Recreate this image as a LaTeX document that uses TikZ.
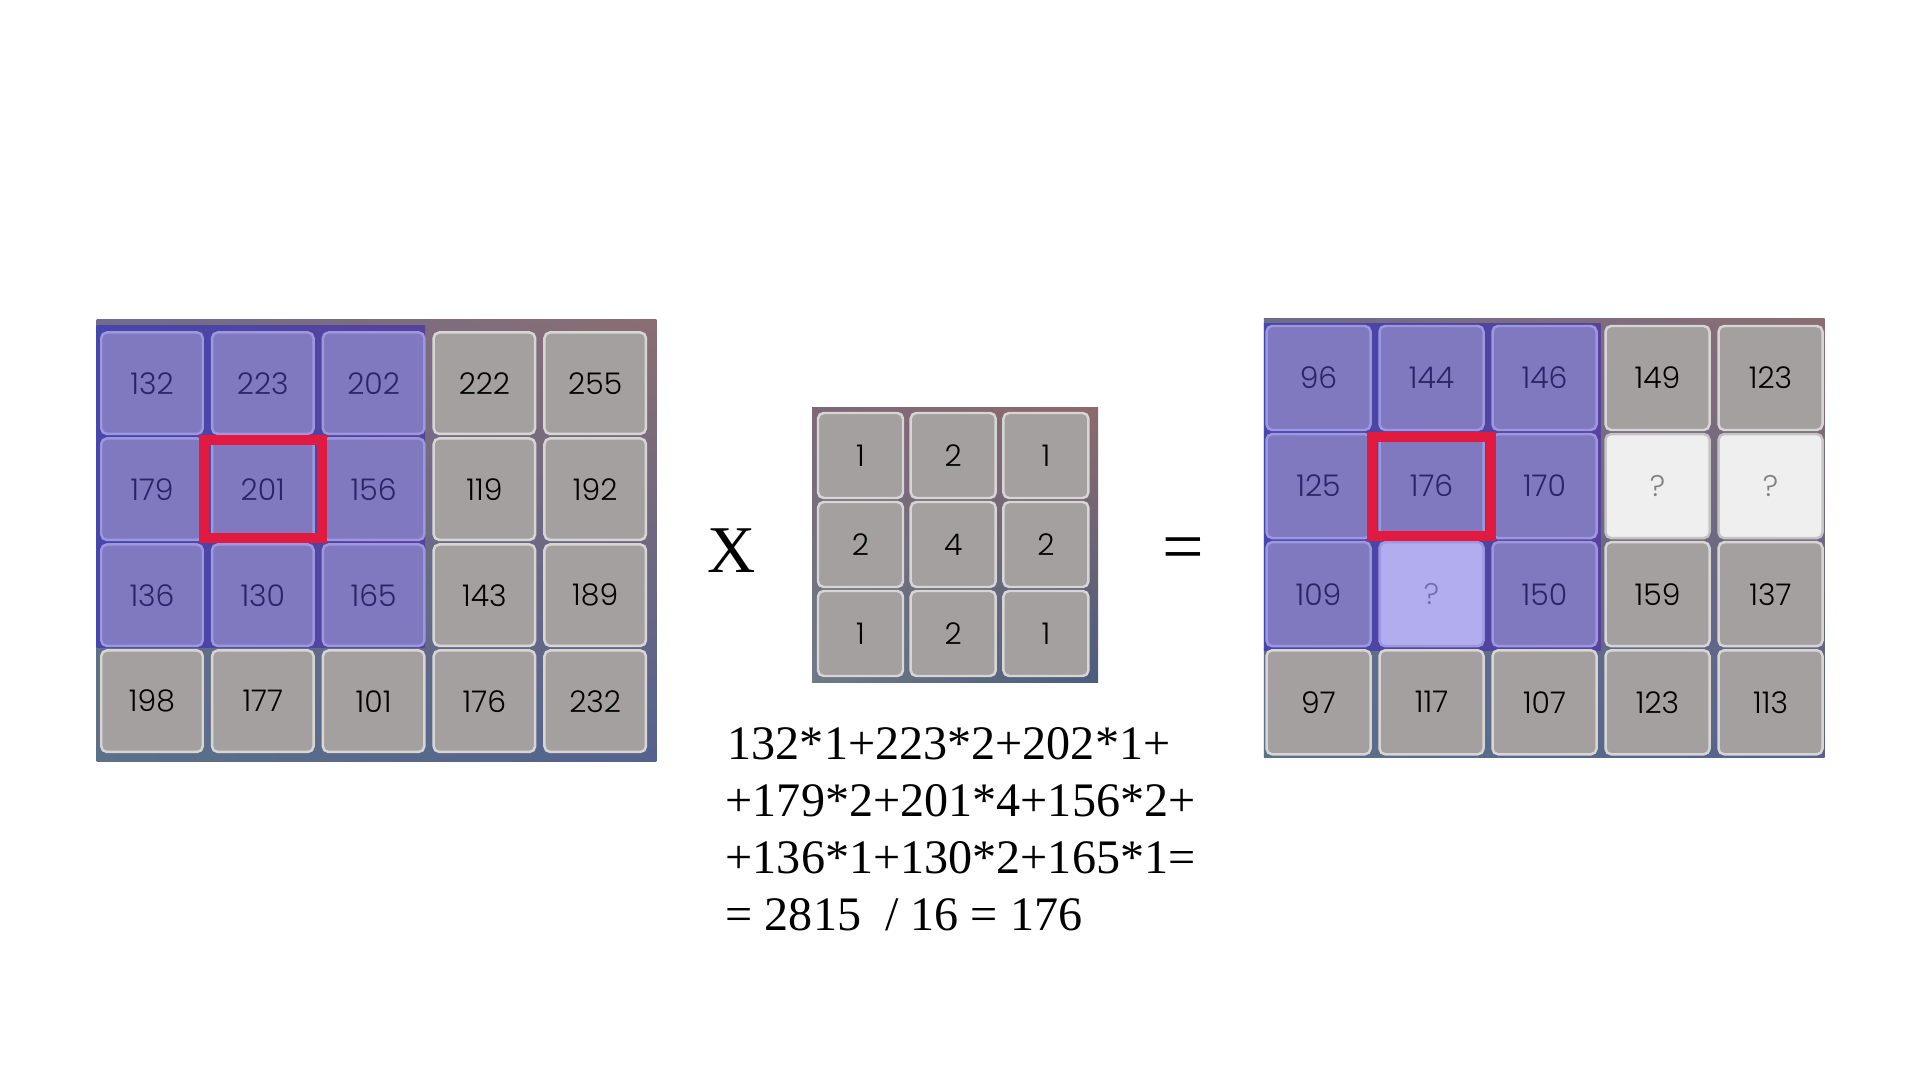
\documentclass[tikz,border=0pt]{standalone}
\usepackage{fontspec}
\setmainfont{Liberation Serif}
\newfontfamily\cellfont{Poppins Light}
\usetikzlibrary{positioning,calc,shadings}
\definecolor{CellPurple}{HTML}{8079BF}
\definecolor{CellPurpleEdge}{HTML}{9D97DF}
\definecolor{CellGray}{HTML}{A3A09F}
\definecolor{CellGrayEdge}{HTML}{D8D6D4}
\definecolor{CellLilac}{HTML}{B1ADEF}
\definecolor{CellBlank}{HTML}{EFEFEF}
\definecolor{TextPurple}{HTML}{2B2466}
\definecolor{HiRed}{HTML}{E31A3F}
\definecolor{BlockBlue}{HTML}{4B4AA6}
\definecolor{PanUL}{RGB}{110,108,142}
\definecolor{PanUR}{RGB}{138,110,114}
\definecolor{PanLL}{RGB}{92,112,136}
\definecolor{PanLR}{RGB}{84,98,142}
\definecolor{KerUL}{RGB}{125,104,120}
\definecolor{KerUR}{RGB}{140,106,110}
\definecolor{KerLL}{RGB}{110,122,134}
\definecolor{KerLR}{RGB}{74,92,126}

\begin{document}
\begin{tikzpicture}[
    cell/.style={
      rounded corners=1.6pt,
      line width=0.7pt,
      inner sep=0pt,
      font=\cellfont\fontsize{8.5}{10}\selectfont
    },
    pcell/.style={cell,fill=CellPurple,draw=CellPurpleEdge,text=TextPurple},
    gcell/.style={cell,fill=CellGray,draw=CellGrayEdge,text=black},
    qcell/.style={cell,fill=CellBlank,draw=CellGrayEdge!80!gray,text=black!50},
    lcell/.style={cell,fill=CellLilac,draw=CellPurpleEdge,text=CellPurple!90!black},
    hilite/.style={
      draw=HiRed,
      line width=2.85pt,
      minimum width=1.18cm,
      minimum height=0.98cm
    },
    formula/.style={
      anchor=base west,
      inner sep=0pt,
      font=\fontsize{13.7}{16.3}\selectfont
    }]

    \useasboundingbox (0,0) rectangle (19.2,10.8);
    \fill[white] (0,0) rectangle (19.2,10.8);

    % Panel backgrounds
    \shade[upper left=PanUL,upper right=PanUR,lower left=PanLL,lower right=PanLR]
      (0.967,3.184) rectangle (6.563,7.604);
    \shade[left color=BlockBlue!95!blue, right color=BlockBlue!90!purple]
      (0.967,4.327) rectangle (4.25,7.543);

    \shade[upper left=KerUL,upper right=KerUR,lower left=KerLL,lower right=KerLR]
      (8.12,3.97) rectangle (10.98,6.72);

    \shade[upper left=PanUL,upper right=PanUR,lower left=PanLL,lower right=PanLR]
      (12.639,3.223) rectangle (18.246,7.61);
    \shade[left color=BlockBlue!95!blue, right color=BlockBlue!90!purple]
      (12.639,4.293) rectangle (16.006,7.567);

    % Input image
    \foreach \row [count=\r] in {
        {pcell/132,pcell/223,pcell/202,gcell/222,gcell/255},
        {pcell/179,pcell/201,pcell/156,gcell/119,gcell/192},
        {pcell/136,pcell/130,pcell/165,gcell/143,gcell/189},
        {gcell/198,gcell/177,gcell/101,gcell/176,gcell/232}} {
      \foreach \s/\v [count=\c] in \row {
        \node[\s,minimum size=1.015cm] (in-\r-\c)
          at ({1.52+1.108*(\c-1)},{6.968-1.06*(\r-1)}) {\v};
      }
    }

    % Kernel
    \foreach \row [count=\r] in {{1,2,1},{2,4,2},{1,2,1}} {
      \foreach \v [count=\c] in \row {
        \node[gcell,minimum size=0.85cm] (k-\r-\c)
          at ({8.605+0.927*(\c-1)},{6.245-0.89*(\r-1)}) {\v};
      }
    }

    % Output image
    \foreach \row [count=\r] in {
        {pcell/96,pcell/144,pcell/146,gcell/149,gcell/123},
        {pcell/125,pcell/176,pcell/170,qcell/?,qcell/?},
        {pcell/109,lcell/?,pcell/150,gcell/159,gcell/137},
        {gcell/97,gcell/117,gcell/107,gcell/123,gcell/113}} {
      \foreach \s/\v [count=\c] in \row {
        \node[\s,minimum size=1.04cm] (out-\r-\c)
          at ({13.185+1.13*(\c-1)},{7.02-1.081*(\r-1)}) {\v};
      }
    }

    % Highlighted window centres
    \node[hilite] (in-sel) at (in-2-2) {};
    \node[hilite,minimum width=1.19cm,minimum height=0.99cm] (out-sel) at (out-2-2) {};

    % Operators
    \node[font=\fontsize{19}{22}\selectfont] (times) at (7.32,5.29) {X};
    \node[font=\fontsize{21}{24}\selectfont] (equals) at (11.83,5.25) {=};

    % Worked sum
    \node[formula] (eq1) at (7.27,3.208) {132*1+223*2+202*1+};
    \node[formula] (eq2) at (7.25,2.633) {+179*2+201*4+156*2+};
    \node[formula] (eq3) at (7.25,2.069) {+136*1+130*2+165*1=};
    \node[formula] (eq4) at (7.25,1.494) {= 2815\ \ / 16 = 176};
  \end{tikzpicture}
\end{document}
